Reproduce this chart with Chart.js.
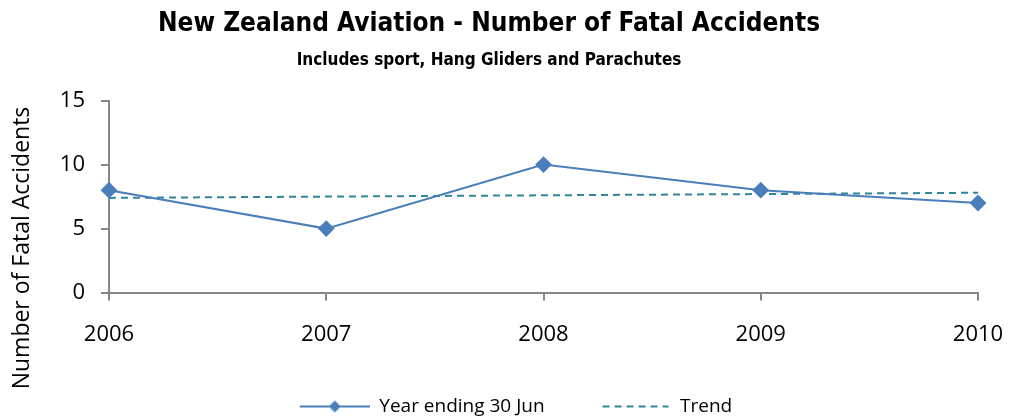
<!DOCTYPE html>
<html>
<head>
<meta charset="utf-8">
<script src="https://cdn.jsdelivr.net/npm/chart.js@4/dist/chart.umd.min.js"></script>
<style>
    body { margin: 0; background: #fff; }
    #wrap { width: 1014px; height: 418px; }
</style>
</head>
<body>
<div id="wrap"><canvas id="fatalChart" width="1014" height="418"></canvas></div>
<script>
// Data
const years = ["2006", "2007", "2008", "2009", "2010"];
const fatalAccidents = [8, 5, 10, 8, 7];
const trendValues = [7.4, 7.5, 7.6, 7.7, 7.8];
const yTicks = [0, 5, 10, 15];
const yTitle = "Number of Fatal Accidents";

const seriesColor = "#4A7EBB";
const trendColor = "#31859C";
const axisColor = "#868686";
const SYM_W = 124;

// small canvases used as legend symbols (line + marker, dashed line)
function legendSymbol(dashed) {
    const c = document.createElement("canvas");
    c.width = SYM_W;
    c.height = 14;
    const g = c.getContext("2d");
    g.lineWidth = 2;
    if (dashed) {
        g.strokeStyle = trendColor;
        g.setLineDash([7, 5]);
        g.beginPath();
        g.moveTo(56, 7);
        g.lineTo(122, 7);
        g.stroke();
    } else {
        g.strokeStyle = seriesColor;
        g.beginPath();
        g.moveTo(SYM_W - 70, 7);
        g.lineTo(SYM_W, 7);
        g.stroke();
        g.fillStyle = seriesColor;
        const cx = SYM_W - 35;
        g.beginPath();
        g.moveTo(cx, 1);
        g.lineTo(cx + 6, 7);
        g.lineTo(cx, 13);
        g.lineTo(cx - 6, 7);
        g.closePath();
        g.fill();
    }
    return c;
}

const symbols = [legendSymbol(false), legendSymbol(true)];

// rotated y axis title, placed like the original (a bit below the plot centre)
const yTitlePlugin = {
    id: "yTitle",
    afterDraw(chart) {
        const ctx = chart.ctx;
        ctx.save();
        ctx.translate(22, 248);
        ctx.rotate(-Math.PI / 2);
        ctx.font = "23px 'Open Sans'";
        ctx.fillStyle = "#000";
        ctx.textAlign = "center";
        ctx.textBaseline = "middle";
        ctx.fillText(yTitle, 0, 0);
        ctx.restore();
    }
};

new Chart(document.getElementById("fatalChart"), {
    type: "line",
    data: {
        labels: years,
        datasets: [{
            label: "Year ending 30 Jun",
            data: fatalAccidents,
            borderColor: seriesColor,
            backgroundColor: seriesColor,
            borderWidth: 2,
            pointStyle: "rectRot",
            pointRadius: 7,
            pointHoverRadius: 7,
            tension: 0
        }, {
            label: "Trend",
            data: trendValues,
            borderColor: trendColor,
            backgroundColor: trendColor,
            borderWidth: 2,
            borderDash: [7, 5],
            pointRadius: 0,
            tension: 0
        }]
    },
    plugins: [yTitlePlugin],
    options: {
        responsive: false,
        animation: false,
        layout: { padding: { left: 0, right: 36, top: 9, bottom: -8 } },
        plugins: {
            title: {
                display: true,
                text: "New Zealand Aviation - Number of Fatal Accidents",
                color: "#000",
                font: { family: "'DejaVu Sans Condensed', 'Liberation Sans'", size: 26, weight: "bold" },
                padding: { top: 0, bottom: 10 }
            },
            subtitle: {
                display: true,
                text: "Includes sport, Hang Gliders and Parachutes",
                color: "#000",
                font: { family: "'DejaVu Sans Condensed', 'Liberation Sans'", size: 17, weight: "bold" },
                padding: { top: 0, bottom: 30 }
            },
            legend: {
                position: "bottom",
                labels: {
                    usePointStyle: true,
                    pointStyleWidth: SYM_W,
                    padding: 2,
                    color: "#000",
                    font: { family: "Open Sans", size: 19 },
                    generateLabels: (chart) => chart.data.datasets.map((ds, i) => ({
                        text: ds.label,
                        pointStyle: symbols[i],
                        fillStyle: ds.borderColor,
                        strokeStyle: ds.borderColor,
                        lineWidth: 0,
                        datasetIndex: i
                    }))
                }
            },
            tooltip: { enabled: false }
        },
        scales: {
            x: {
                offset: false,
                afterFit: (axis) => {
                    axis.height += 26;
                    axis.paddingLeft = 0;
                    axis.paddingRight = 0;
                },
                grid: { drawOnChartArea: false, tickLength: 8, color: axisColor, lineWidth: 2 },
                border: { color: axisColor, width: 2 },
                ticks: { color: "#000", font: { family: "Open Sans", size: 22 }, padding: 21 }
            },
            y: {
                min: 0,
                max: 15,
                afterBuildTicks: (axis) => { axis.ticks = yTicks.map(v => ({ value: v })); },
                afterFit: (axis) => { axis.width = 109; },
                grid: { drawOnChartArea: false, tickLength: 8, color: axisColor, lineWidth: 2 },
                border: { color: axisColor, width: 2 },
                ticks: { color: "#000", font: { family: "Open Sans", size: 22 }, padding: 16 }
            }
        }
    }
});
</script>
</body>
</html>
